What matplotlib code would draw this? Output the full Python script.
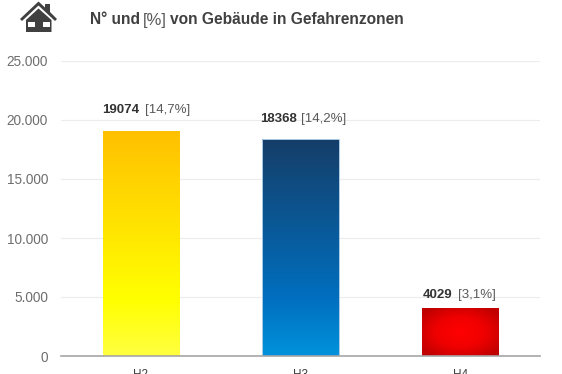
import numpy as np
import matplotlib
matplotlib.use("Agg")
import matplotlib.pyplot as plt
from matplotlib.colors import LinearSegmentedColormap
from matplotlib.patches import Polygon, Rectangle

categories = ["H2", "H3", "H4"]
values = [19074, 18368, 4029]
percents = ["[14,7%]", "[14,2%]", "[3,1%]"]
y_ticks = [0, 5000, 10000, 15000, 20000, 25000]
y_tick_labels = ["0", "5.000", "10.000", "15.000", "20.000", "25.000"]

W, H = 562, 374
plt.rcParams['font.family'] = ['Liberation Sans', 'DejaVu Sans']

fig = plt.figure(figsize=(W / 100, H / 100), dpi=100)
ax = fig.add_axes([61 / W, 1 - 356 / H, 479 / W, 295 / H])

for s in ['top', 'right', 'left']:
    ax.spines[s].set_visible(False)
ax.spines['bottom'].set_color('#a6a6a6')
ax.spines['bottom'].set_linewidth(1.2)
ax.spines['bottom'].set_zorder(5)
ax.set_yticks(y_ticks, y_tick_labels)
ax.set_xticks(range(3), categories)
ax.tick_params(axis='both', length=0)
ax.tick_params(axis='y', labelsize=9.8, labelcolor='#6e6e6e', pad=9.4)
ax.tick_params(axis='x', labelsize=8.5, labelcolor='#404040', pad=9.5)
ax.grid(axis='y', color='#ececec', linewidth=0.8)
ax.set_axisbelow(True)

# gradient fills, each one clipped to its bar
yellow = LinearSegmentedColormap.from_list('y', [(0, '#ffff40'), (0.25, '#ffff00'), (1, '#ffc000')])
blue = LinearSegmentedColormap.from_list('b', [(0, '#0092dc'), (0.25, '#0070c0'), (1, '#153e69')])
red = LinearSegmentedColormap.from_list('r', ['#ff0000', '#f00000', '#c00000'])

yy = np.linspace(0, 1, 200).reshape(-1, 1)
gx, gy = np.meshgrid(np.linspace(-1, 1, 150), np.linspace(-1, 1, 100))
radial = np.clip(np.sqrt(gx ** 2 + gy ** 2) / 1.25, 0, 1)
fills = [(yy, yellow), (yy, blue), (radial, red)]

bars = ax.bar(range(3), values, width=0.476, color='none', zorder=3)
bars[1].set_edgecolor('#a9cbe4')
bars[1].set_linewidth(0.7)
for b, (grad, cmap) in zip(bars, fills):
    im = ax.imshow(grad, cmap=cmap, origin='lower', aspect='auto', zorder=2,
                   extent=[b.get_x(), b.get_x() + b.get_width(), 0, b.get_height()])
    im.set_clip_path(b)
ax.set_xlim(-0.5, 2.5)
ax.set_ylim(0, 25000)

# value labels sit a little above each bar
label_lift = [21, 20, 13]
num_shift = [-39, -40, -37]
pct_shift = [4, 1, -2]
for i in range(3):
    ax.annotate(str(values[i]), (i, values[i]), xytext=(num_shift[i], label_lift[i]),
                textcoords='offset pixels', ha='left', va='center', fontsize=9.5,
                fontweight='bold', color='#333333')
    ax.annotate(percents[i], (i, values[i]), xytext=(pct_shift[i], label_lift[i]),
                textcoords='offset pixels', ha='left', va='center', fontsize=9.5,
                color='#595959')

# title is in three pieces, the [%] is not bold
fig.text(90 / W, 1 - 20 / H, "N° und", fontsize=11.2, fontweight='bold', color='#404040',
         ha='left', va='center')
fig.text(143 / W, 1 - 20 / H, "[%]", fontsize=12, color='#595959', ha='left', va='center')
fig.text(170 / W, 1 - 20 / H, "von Gebäude in Gefahrenzonen", fontsize=11.2, fontweight='bold',
         color='#404040', ha='left', va='center')

# house icon, drawn in pixel coordinates
icon = fig.add_axes([0, 0, 1, 1], facecolor='none')
icon.set_xlim(0, W)
icon.set_ylim(H, 0)
icon.axis('off')
dark = '#404040'
icon.add_patch(Polygon([(20, 19), (38.5, 1.5), (45, 7.5), (45, 4), (50, 4), (50, 12), (57, 19),
                        (55, 21), (38.5, 5.5), (22, 21)], color=dark, lw=0))
icon.add_patch(Polygon([(26, 20), (38.5, 8.5), (51.5, 20), (51.5, 32), (26, 32)], color=dark, lw=0))
for x0 in (28, 43):
    icon.add_patch(Rectangle((x0, 21.5), 6.5, 5, color='white', lw=0))

fig.savefig('out.png', dpi=100)
